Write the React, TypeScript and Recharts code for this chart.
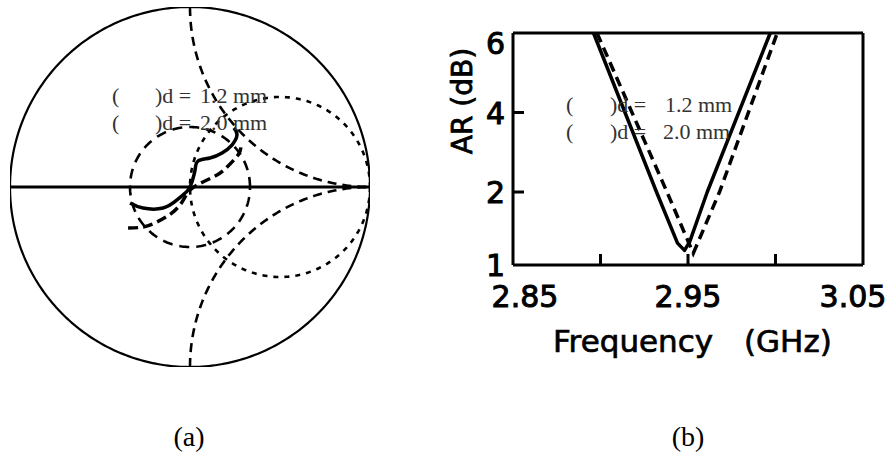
import { LineChart, Line, XAxis, YAxis, ReferenceLine } from "recharts";

// Smith chart grid: constant resistance circles (r = 0 is the boundary),
// constant reactance arcs and one VSWR circle
const resistanceCircles = [0, 1];
const reactanceArcs = [1, -1];
const vswrCircle = 2;

// reflection coefficient loci, real / imaginary parts
const gamma12Re = [-0.333, -0.261, -0.15, -0.072, -0.011, 0.011, 0.028, 0.044, 0.111, 0.178, 0.233, 0.261, 0.244];
const gamma12Im = [-0.089, -0.117, -0.117, -0.072, -0.017, 0.028, 0.094, 0.144, 0.161, 0.189, 0.233, 0.289, 0.328];
const gamma20Re = [-0.344, -0.261, -0.183, -0.1, -0.044, 0.0, 0.072, 0.15, 0.206, 0.267, 0.283];
const gamma20Im = [-0.228, -0.222, -0.194, -0.144, -0.083, -0.017, 0.028, 0.067, 0.111, 0.178, 0.222];

// axial ratio (dB) against frequency (GHz)
const freq12 = [2.896, 2.932, 2.944, 2.948, 2.951, 2.961, 2.997];
const ar12 = [6, 2, 1.3, 1.2, 1.32, 2, 6];
const freq20 = [2.898, 2.938, 2.953, 2.968, 3.001];
const ar20 = [6, 2, 1.16, 2, 6];

const freqTicks = [2.85, 2.9, 2.95, 3.0, 3.05];
const freqLabels = ["2.85", "", "2.95", "", "3.05"];
const arTicks = [1, 2, 4, 6];

type Pt = { x: number; y: number };

// z = r + jx  ->  Γ = (z - 1) / (z + 1)
function toGamma(r: number, x: number): Pt {
  const den = (r + 1) * (r + 1) + x * x;
  return { x: (r * r + x * x - 1) / den, y: (2 * x) / den };
}

function resistancePts(r: number): Pt[] {
  const pts: Pt[] = [{ x: 1, y: 0 }];
  for (let i = 1; i < 360; i++) {
    const phi = -Math.PI / 2 + (i / 360) * Math.PI;
    pts.push(toGamma(r, Math.tan(phi)));
  }
  pts.push({ x: 1, y: 0 });
  return pts;
}

function reactancePts(x: number): Pt[] {
  const pts: Pt[] = [];
  for (let i = 0; i < 200; i++) {
    const phi = (i / 200) * (Math.PI / 2);
    pts.push(toGamma(Math.tan(phi), x));
  }
  pts.push({ x: 1, y: 0 });
  return pts;
}

function vswrPts(s: number): Pt[] {
  const rad = (s - 1) / (s + 1);
  const pts: Pt[] = [];
  for (let i = 0; i <= 240; i++) {
    const a = (i / 240) * Math.PI * 2;
    pts.push({ x: rad * Math.cos(a), y: rad * Math.sin(a) });
  }
  return pts;
}

const locus12 = gamma12Re.map((x, i) => ({ x, y: gamma12Im[i] }));
const locus20 = gamma20Re.map((x, i) => ({ x, y: gamma20Im[i] }));

const arRows12 = freq12.map((f, i) => ({ f, ar: ar12[i] }));
const arRows20 = freq20.map((f, i) => ({ f, ar: ar20[i] }));

// the AR axis is stretched below 2 dB
const LOW_STRETCH = 1.836;
const arAxis = (v: number) => (v >= 2 ? v : 2 - (2 - v) * LOW_STRETCH);

const tickFont = {
  fontFamily: "'DejaVu Sans', sans-serif",
  fontSize: 30,
  fill: "#000",
  stroke: "#000",
  strokeWidth: 1,
};

function BottomTick(props: any) {
  const { x, y, payload } = props;
  const i = freqTicks.findIndex((t) => Math.abs(t - payload.value) < 1e-6);
  const last = freqTicks.length - 1;
  const dx = i === 0 ? 12 : i === last ? -10 : 0;
  return (
    <g>
      {i > 0 && i < last && (
        <line x1={x} x2={x} y1={y} y2={y - 11} stroke="#000" strokeWidth={3} />
      )}
      {freqLabels[i] && (
        <text x={x + dx} y={y + 42} textAnchor="middle" {...tickFont}>
          {freqLabels[i]}
        </text>
      )}
    </g>
  );
}

function LeftTick(props: any) {
  const { x, y, payload } = props;
  const i = arTicks.findIndex((t) => Math.abs(arAxis(t) - payload.value) < 1e-6);
  const v = arTicks[i];
  const inner = i > 0 && i < arTicks.length - 1;
  const dy = v === 6 ? 21 : 11;
  return (
    <g>
      {inner && <line x1={x} x2={x + 11} y1={y} y2={y} stroke="#000" strokeWidth={3} />}
      <text x={x - 8} y={y + dy} textAnchor="end" {...tickFont}>
        {v}
      </text>
    </g>
  );
}

function RightTick(props: any) {
  const { x, y } = props;
  return <line x1={x} x2={x - 10} y1={y} y2={y} stroke="#000" strokeWidth={3} />;
}

function TopTick(props: any) {
  const { x, y } = props;
  return <line x1={x} x2={x} y1={y} y2={y + 10} stroke="#000" strokeWidth={3} />;
}

const legendFont = {
  fontFamily: "'Liberation Serif', serif",
  fontSize: 22,
  fill: "#333",
};

function SmithChart() {
  return (
    <LineChart width={380} height={380} margin={{ top: 7, right: 10, bottom: 13, left: 10 }}>
      <XAxis type="number" dataKey="x" domain={[-1, 1]} allowDataOverflow hide />
      <YAxis type="number" domain={[-1, 1]} allowDataOverflow hide />
      <ReferenceLine y={0} stroke="#000" strokeWidth={3} />
      {resistanceCircles.map((r) => (
        <Line
          key={`r${r}`}
          data={resistancePts(r)}
          dataKey="y"
          stroke="#000"
          strokeWidth={r === 0 ? 2.2 : 2.6}
          strokeDasharray={r === 0 ? undefined : "5 6"}
          dot={false}
          activeDot={false}
          isAnimationActive={false}
        />
      ))}
      {reactanceArcs.map((x) => (
        <Line
          key={`x${x}`}
          data={reactancePts(x)}
          dataKey="y"
          stroke="#000"
          strokeWidth={2.6}
          strokeDasharray="9 6"
          dot={false}
          activeDot={false}
          isAnimationActive={false}
        />
      ))}
      <Line
        data={vswrPts(vswrCircle)}
        dataKey="y"
        stroke="#000"
        strokeWidth={2.6}
        strokeDasharray="10 7"
        dot={false}
        activeDot={false}
        isAnimationActive={false}
      />
      <Line
        data={locus20}
        dataKey="y"
        type="natural"
        stroke="#000"
        strokeWidth={3.5}
        strokeDasharray="10 5"
        dot={false}
        activeDot={false}
        isAnimationActive={false}
      />
      <Line
        data={locus12}
        dataKey="y"
        type="natural"
        stroke="#000"
        strokeWidth={3.5}
        strokeLinejoin="round"
        dot={false}
        activeDot={false}
        isAnimationActive={false}
      />
    </LineChart>
  );
}

function ArChart() {
  return (
    <LineChart width={491} height={455} margin={{ top: 23, right: 18, bottom: 130, left: 53 }}>
      <XAxis
        xAxisId="b"
        type="number"
        dataKey="f"
        domain={[2.85, 3.05]}
        ticks={freqTicks}
        interval={0}
        height={60}
        tickSize={0}
        tickMargin={0}
        tickLine={false}
        axisLine={{ stroke: "#000", strokeWidth: 3 }}
        tick={<BottomTick />}
      />
      <XAxis
        xAxisId="t"
        orientation="top"
        type="number"
        domain={[2.85, 3.05]}
        ticks={[2.95]}
        interval={0}
        height={10}
        tickSize={0}
        tickMargin={0}
        tickLine={false}
        axisLine={{ stroke: "#000", strokeWidth: 3 }}
        tick={<TopTick />}
      />
      <YAxis
        yAxisId="l"
        type="number"
        domain={[arAxis(1), 6]}
        ticks={arTicks.map(arAxis)}
        interval={0}
        width={60}
        tickSize={0}
        tickMargin={0}
        tickLine={false}
        axisLine={{ stroke: "#000", strokeWidth: 3 }}
        tick={<LeftTick />}
      />
      <YAxis
        yAxisId="r"
        orientation="right"
        type="number"
        domain={[arAxis(1), 6]}
        ticks={[2, 4]}
        interval={0}
        width={10}
        tickSize={0}
        tickMargin={0}
        tickLine={false}
        axisLine={{ stroke: "#000", strokeWidth: 3 }}
        tick={<RightTick />}
      />
      <Line
        xAxisId="b"
        yAxisId="l"
        data={arRows20}
        dataKey={(d: any) => arAxis(d.ar)}
        stroke="#000"
        strokeWidth={3.5}
        strokeDasharray="10 6"
        dot={false}
        activeDot={false}
        isAnimationActive={false}
      />
      <Line
        xAxisId="b"
        yAxisId="l"
        data={arRows12}
        dataKey={(d: any) => arAxis(d.ar)}
        stroke="#000"
        strokeWidth={3.5}
        strokeLinejoin="round"
        dot={false}
        activeDot={false}
        isAnimationActive={false}
      />
    </LineChart>
  );
}

export default function App() {
  return (
    <div
      style={{
        position: "absolute",
        left: 0,
        top: 0,
        width: 891,
        height: 455,
        background: "#fff",
      }}
    >
      <div style={{ position: "absolute", left: 0, top: 0 }}>
        <SmithChart />
      </div>
      <div style={{ position: "absolute", left: 400, top: 0 }}>
        <ArChart />
      </div>
      <svg
        width={891}
        height={455}
        style={{ position: "absolute", left: 0, top: 0, pointerEvents: "none" }}
      >
        <text y={103} {...legendFont}>
          <tspan x={112}>(</tspan>
          <tspan x={155}>)d =</tspan>
          <tspan x={200}>1.2 mm</tspan>
        </text>
        <text y={130} {...legendFont}>
          <tspan x={112}>(</tspan>
          <tspan x={155}>)d =</tspan>
          <tspan x={200}>2.0 mm</tspan>
        </text>
        <text y={112} {...legendFont}>
          <tspan x={566}>(</tspan>
          <tspan x={610}>)d =</tspan>
          <tspan x={665}>1.2 mm</tspan>
        </text>
        <text y={139} {...legendFont}>
          <tspan x={566}>(</tspan>
          <tspan x={610}>)d =</tspan>
          <tspan x={663}>2.0 mm</tspan>
        </text>
        <text
          transform="translate(472,101) rotate(-90)"
          textAnchor="middle"
          fontFamily="'DejaVu Sans', sans-serif"
          fontSize={28}
          stroke="#000"
          strokeWidth={0.8}
        >
          AR (dB)
        </text>
        <text
          y={352}
          fontFamily="'DejaVu Sans', sans-serif"
          fontSize={31}
          stroke="#000"
          strokeWidth={0.7}
        >
          <tspan x={553}>Frequency</tspan>
          <tspan x={744}>(GHz)</tspan>
        </text>
        <text x={189} y={446} textAnchor="middle" fontFamily="'Liberation Serif', serif" fontSize={28}>
          (a)
        </text>
        <text x={688} y={446} textAnchor="middle" fontFamily="'Liberation Serif', serif" fontSize={28}>
          (b)
        </text>
      </svg>
    </div>
  );
}
